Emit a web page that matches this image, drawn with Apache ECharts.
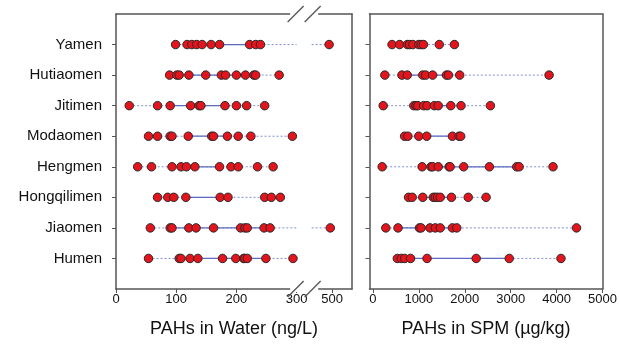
<!DOCTYPE html>
<html><head><meta charset="utf-8">
<script src="https://cdn.jsdelivr.net/npm/echarts@6/dist/echarts.min.js"></script>
<style>html,body{margin:0;padding:0;background:#fff}#c{width:620px;height:348px}</style>
</head><body><div id="c"></div>
<script>
// ---- data ----
const sites = ['Yamen','Hutiaomen','Jitimen','Modaomen','Hengmen','Hongqilimen','Jiaomen','Humen'];
const waterValues = [
  [99,118,126,134,143,158,172,222,232,240,495],
  [89,101,105,121,149,175,182,200,215,229,232,271],
  [22,69,90,124,138,141,181,200,217,247],
  [54,69,90,93,120,159,162,185,203,224,293],
  [36,59,93,108,117,131,172,191,203,235,261],
  [69,86,96,116,173,186,247,258,273],
  [57,90,93,121,133,162,207,214,218,246,256,497],
  [54,105,108,123,136,177,199,212,214,218,249,294]
];
const waterSolid = [[118,232],[121,215],[90,181],[120,185],[131,172],[116,173],[93,256],[108,249]];
const spmValues = [
  [416,582,748,797,869,998,1049,1099,1444,1774],
  [259,632,748,1085,1149,1300,1601,1645,1889,3836],
  [223,891,941,977,1106,1178,1336,1422,1695,1918,2558],
  [690,761,998,1171,1731,1875,1911],
  [201,1071,1264,1300,1422,1659,1681,1976,2536,3131,3183,3922],
  [776,855,1085,1315,1358,1408,1466,1710,2075,2464],
  [280,546,1013,1049,1243,1358,1466,1731,1825,4433],
  [531,618,690,819,1178,2248,2968,4095]
];
const spmSolid = [[582,1099],[632,1645],[941,1695],[998,1731],[1264,3131],[1085,1710],[546,1825],[819,2968]];
const waterTicks = [0,100,200,300,500];
const spmTicks = [0,1000,2000,3000,4000,5000];
const waterBreak = {start:300, end:466};

// ---- styles ----
const FONT = 'Liberation Sans, Arial, sans-serif';
const FRAME = '#555';
const rowIdx = sites.map((_, i) => i);

function xAxes(grid, min, max, ticks, name, breaks) {
  const base = {gridIndex: grid, type: 'value', min: min, max: max, splitLine: {show: false}};
  if (breaks) { base.breaks = breaks; base.breakArea = {show: false}; }
  return [
    Object.assign({}, base, {
      position: 'bottom',
      axisLine: {show: true, onZero: false, lineStyle: {color: FRAME, width: 1.5}},
      axisTick: {show: true, customValues: ticks, length: 4, lineStyle: {color: FRAME, width: 1}},
      axisLabel: {customValues: ticks, formatter: v => String(v), color: '#111', fontSize: 13, fontFamily: FONT, margin: 4},
      name: name, nameLocation: 'middle', nameGap: 31,
      nameTextStyle: {color: '#111', fontSize: 18, fontFamily: FONT}
    }),
    Object.assign({}, base, {
      position: 'top',
      axisLine: {show: true, onZero: false, lineStyle: {color: FRAME, width: 1.5}},
      axisTick: {show: false}, axisLabel: {show: false}
    })
  ];
}
function yAxes(grid, showLabels) {
  const base = {gridIndex: grid, type: 'value', inverse: true, min: -1, max: 8, splitLine: {show: false}};
  return [
    Object.assign({}, base, {
      position: 'left',
      axisLine: {show: true, onZero: false, lineStyle: {color: FRAME, width: 1.5}},
      axisTick: {show: true, customValues: rowIdx, length: 4, lineStyle: {color: FRAME, width: 1}},
      axisLabel: {show: showLabels, customValues: rowIdx, formatter: v => sites[v] || '',
                  color: '#111', fontSize: 15, fontFamily: FONT, margin: 14}
    }),
    Object.assign({}, base, {
      position: 'right',
      axisLine: {show: true, onZero: false, lineStyle: {color: FRAME, width: 1.5}},
      axisTick: {show: false}, axisLabel: {show: false}
    })
  ];
}

function panelSeries(values, solid, xi, yi, brk) {
  const out = [];
  values.forEach((vals, r) => {
    const lo = Math.min(...vals), hi = Math.max(...vals);
    let segs = [[lo, hi]];
    if (brk && hi > brk.end) segs = [[lo, brk.start], [brk.end, hi]];
    segs.forEach(s => out.push({
      type: 'line', xAxisIndex: xi, yAxisIndex: yi, symbol: 'none', silent: true, z: 1,
      data: [[s[0], r], [s[1], r]],
      lineStyle: {color: '#8390d4', width: 1, type: [2, 2]}
    }));
    out.push({
      type: 'line', xAxisIndex: xi, yAxisIndex: yi, symbol: 'none', silent: true, z: 2,
      data: [[solid[r][0], r], [solid[r][1], r]],
      lineStyle: {color: '#5d6cc0', width: 1.2}
    });
  });
  const pts = [];
  values.forEach((vals, r) => vals.forEach(v => pts.push([v, r])));
  out.push({
    type: 'scatter', xAxisIndex: xi, yAxisIndex: yi, z: 5, symbolSize: 8.5, data: pts,
    itemStyle: {color: '#e3141c', borderColor: '#2a2a2a', borderWidth: 1, opacity: 1}
  });
  return out;
}

const chart = echarts.init(document.getElementById('c'), null, {renderer: 'canvas'});
const option = {
  animation: false,
  backgroundColor: '#fff',
  grid: [
    {left: 116, right: 268, top: 14, bottom: 59},
    {left: 369.5, right: 16, top: 14, bottom: 59}
  ],
  xAxis: [
    ...xAxes(0, 0, 533, waterTicks, 'PAHs in Water (ng/L)', [{start: waterBreak.start, end: waterBreak.end, gap: 25}]),
    ...xAxes(1, -75, 5000, spmTicks, 'PAHs in SPM (\u00b5g/kg)', null)
  ],
  yAxis: [...yAxes(0, true), ...yAxes(1, false)],
  series: [
    ...panelSeries(waterValues, waterSolid, 0, 0, waterBreak),
    ...panelSeries(spmValues, spmSolid, 2, 2, null)
  ]
};
chart.setOption(option);

// break marks "//" on top and bottom frame of the water panel
const p1 = chart.convertToPixel({xAxisIndex: 0}, waterBreak.start);
const p2 = chart.convertToPixel({xAxisIndex: 0}, waterBreak.end);
const mx = (p1 + p2) / 2;
const yTop = chart.convertToPixel({yAxisIndex: 0}, -1);
const yBot = chart.convertToPixel({yAxisIndex: 0}, 8);
const g = [];
[yTop, yBot].forEach(y => {
  g.push({type: 'rect', shape: {x: mx - 14, y: y - 3, width: 28, height: 6}, style: {fill: '#fff'}, z: 100});
  [-8.5, 8.5].forEach(dx => g.push({
    type: 'line', shape: {x1: mx + dx - 8, y1: y + 8, x2: mx + dx + 8, y2: y - 8},
    style: {stroke: '#555', lineWidth: 1.3}, z: 101
  }));
});
chart.setOption({graphic: g});
</script>
</body></html>
